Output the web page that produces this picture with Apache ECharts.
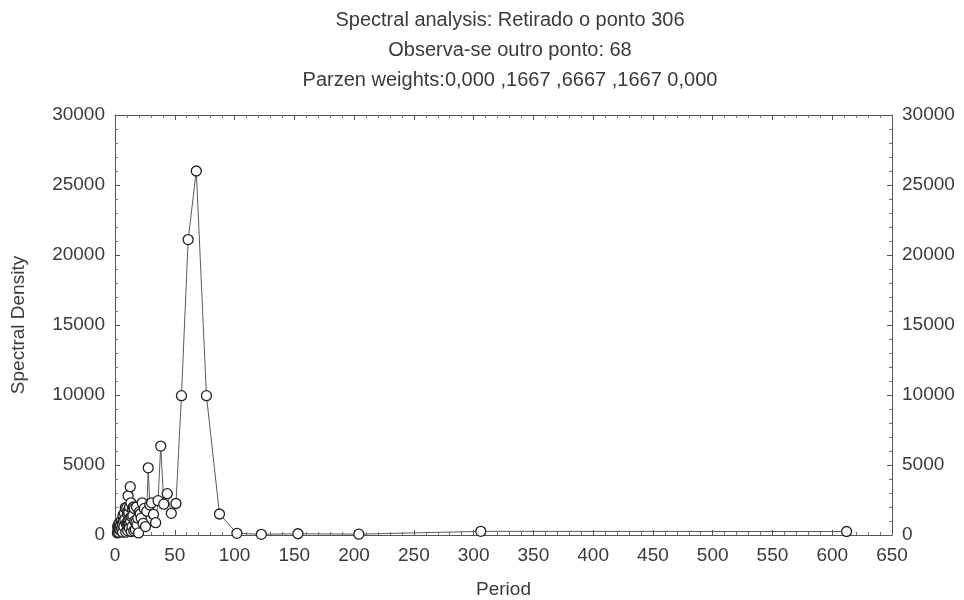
<!DOCTYPE html>
<html lang="en">
<head>
  <meta charset="UTF-8">
  <title>Spectral analysis</title>
  <script src="https://cdn.jsdelivr.net/npm/echarts@6/dist/echarts.min.js"></script>
  <style>
    html, body { margin: 0; padding: 0; background: #fff; }
    #chart { width: 964px; height: 600px; }
  </style>
</head>
<body>
  <div id="chart"></div>
  <script>
    // periods (612/k) and spectral density values
    var periods = [2.0, 2.2, 2.4, 2.7, 3.0, 3.4, 3.6, 4.0, 4.4, 4.8, 5.2, 5.6, 6.0, 6.3, 6.7, 7.0, 7.4, 7.8, 8.2, 8.6,
      9.0, 9.4, 9.8, 10.2, 10.4, 10.6, 10.7, 10.9, 11.1, 11.3, 11.5, 11.8, 12.0, 12.2, 12.5, 12.75, 13.0, 13.3, 13.6, 13.9,
      14.2, 14.6, 14.9, 15.3, 15.7, 16.1, 16.5, 17.0, 17.5, 18.0, 18.5, 19.1, 19.7, 20.4, 21.1, 21.9, 22.7, 23.5, 24.5, 25.5,
      26.6, 27.8, 29.1, 30.6, 32.2, 34.0, 36.0, 38.25, 40.8, 43.7, 47.1, 51.0, 55.6, 61.2, 68.0, 76.5, 87.4, 102.0, 122.4, 153.0,
      204.0, 306.0, 612.0];
    var density = [150, 600, 250, 500, 200, 830, 400, 900, 650, 300, 1000, 500, 800, 200, 1400, 1000, 600, 1550, 1100, 1950,
      200, 800, 1950, 900, 1500, 300, 1700, 2800, 1000, 700, 1600, 800, 500, 2000, 1200, 3450, 1000, 2300, 250, 1300,
      600, 1850, 1400, 2000, 300, 1900, 1000, 400, 900, 2000, 720, 1200, 150, 1650, 1500, 1200, 2300, 830, 1900, 600,
      1700, 4800, 2150, 2300, 1470, 880, 2450, 6350, 2200, 2950, 1550, 2250, 9950, 21100, 26000, 9950, 1500, 120, 50, 90,
      60, 260, 250];

    var titles = [
      'Spectral analysis: Retirado o ponto 306',
      'Observa-se outro ponto: 68',
      'Parzen weights:0,000 ,1667 ,6667 ,1667 0,000'
    ];

    var pts = [];
    for (var i = 0; i < periods.length; i++) {
      pts.push([periods[i], density[i]]);
    }

    var font = 'Liberation Sans';
    var txt = '#3a3a3a';
    var plain = function (v) { return String(v); };

    var myChart = echarts.init(document.getElementById('chart'), null, {renderer: 'canvas'});

    // shared look for both value axes on the left and right
    var yBase = {
      type: 'value', min: 0, max: 30000, interval: 5000,
      axisLine: {show: true, onZero: false, lineStyle: {color: '#555', width: 1}},
      axisTick: {show: true, inside: true, length: 5, lineStyle: {color: '#555'}},
      minorTick: {show: true, splitNumber: 5, length: 3, lineStyle: {color: '#777'}},
      splitLine: {show: false},
      axisLabel: {color: txt, fontFamily: font, fontSize: 19, margin: 10, formatter: plain}
    };

    var opt = {
      backgroundColor: '#fff',
      animation: false,
      title: titles.map(function (t, i) {
        return {
          text: t, left: 505, top: 5 + i * 30, textAlign: 'center',
          textStyle: {color: txt, fontFamily: font, fontSize: 20, fontWeight: 'normal'}
        };
      }),
      grid: {left: 115, right: 72, top: 115, bottom: 65, outerBoundsMode: 'none'},
      xAxis: [{
        type: 'value', min: 0, max: 650, interval: 50,
        name: 'Period', nameLocation: 'middle', nameGap: 45,
        nameTextStyle: {color: txt, fontFamily: font, fontSize: 19},
        axisLine: {show: true, onZero: false, lineStyle: {color: '#555', width: 1}},
        axisTick: {show: true, inside: true, length: 5, lineStyle: {color: '#555'}},
        minorTick: {show: true, splitNumber: 5, length: 3, lineStyle: {color: '#777'}},
        splitLine: {show: false},
        axisLabel: {color: txt, fontFamily: font, fontSize: 19, margin: 11, formatter: plain}
      }, {
        type: 'value', min: 0, max: 650, interval: 50, position: 'top',
        axisLine: {show: true, onZero: false, lineStyle: {color: '#555', width: 1}},
        axisTick: {show: true, inside: true, length: 5, lineStyle: {color: '#555'}},
        minorTick: {show: true, splitNumber: 5, length: 3, lineStyle: {color: '#777'}},
        splitLine: {show: false},
        axisLabel: {show: false}
      }],
      yAxis: [
        Object.assign({}, yBase, {
          position: 'left',
          name: 'Spectral Density', nameLocation: 'middle', nameGap: 87, nameRotate: 90,
          nameTextStyle: {color: txt, fontFamily: font, fontSize: 19}
        }),
        Object.assign({}, yBase, {position: 'right'})
      ],
      series: [{
        type: 'line',
        data: pts,
        symbol: 'circle',
        symbolSize: 10,
        showAllSymbol: true,
        z: 3,
        lineStyle: {color: '#5a5a5a', width: 1},
        itemStyle: {color: '#fff', borderColor: '#222', borderWidth: 1.3}
      }]
    };

    myChart.setOption(opt);
  </script>
</body>
</html>
